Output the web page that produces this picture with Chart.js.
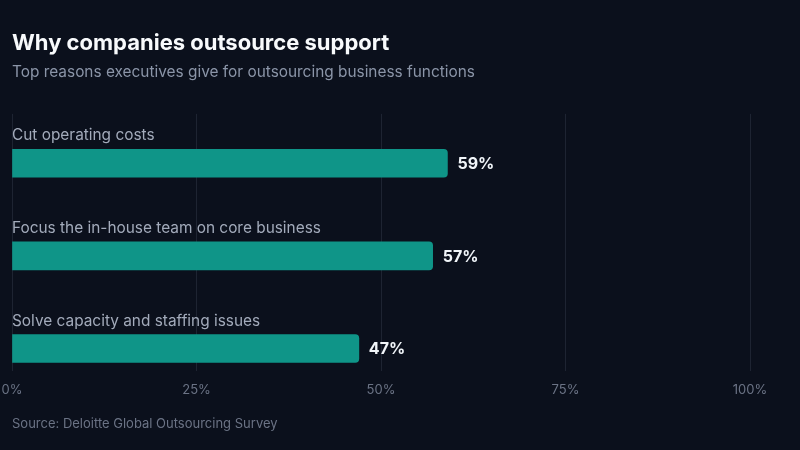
<!DOCTYPE html>
<html>
<head>
<meta charset="utf-8">
<script src="https://cdn.jsdelivr.net/npm/chart.js@4"></script>
<style>
  html, body { margin: 0; padding: 0; background: #0b101c; }
  #wrap { width: 800px; height: 450px; position: relative; }
</style>
</head>
<body>
<div id="wrap"><canvas id="chart"></canvas></div>
<script>
const categories = ['Cut operating costs', 'Focus the in-house team on core business', 'Solve capacity and staffing issues'];
const shares = [59, 57, 47];
const tickValues = [0, 25, 50, 75, 100];

const bg = '#0b101c';
const teal = '#0f9588';

// category names above each bar, value after its end
const barText = {
  id: 'barText',
  afterDatasetsDraw(chart) {
    const ctx = chart.ctx;
    const meta = chart.getDatasetMeta(0);
    ctx.save();
    meta.data.forEach((bar, i) => {
      ctx.font = '15.4px Inter';
      ctx.fillStyle = '#a3abbb';
      ctx.textAlign = 'left';
      ctx.textBaseline = 'alphabetic';
      ctx.fillText(categories[i], chart.chartArea.left, bar.y - 23);

      ctx.font = 'bold 16px Inter';
      ctx.fillStyle = '#f1f5f9';
      ctx.textBaseline = 'middle';
      ctx.fillText(shares[i] + '%', bar.x + 10, bar.y + 1);
    });
    ctx.restore();
  },
  afterDraw(chart) {
    const ctx = chart.ctx;
    ctx.save();
    ctx.font = '13px Inter';
    ctx.fillStyle = '#6b7385';
    ctx.textBaseline = 'middle';
    ctx.fillText('Source: Deloitte Global Outsourcing Survey', 12, 424);
    ctx.restore();
  }
};

const bgFill = {
  id: 'bgFill',
  beforeDraw(chart) {
    const ctx = chart.ctx;
    ctx.save();
    ctx.fillStyle = bg;
    ctx.fillRect(0, 0, chart.width, chart.height);
    ctx.restore();
  }
};

new Chart(document.getElementById('chart'), {
  type: 'bar',
  data: {
    datasets: [{
      data: shares.map((v, i) => ({ x: v, y: i })),
      backgroundColor: teal,
      borderRadius: 4,
      borderSkipped: 'start',
      barThickness: 28
    }]
  },
  options: {
    indexAxis: 'y',
    responsive: true,
    maintainAspectRatio: false,
    animation: false,
    layout: { padding: { top: 30, left: 12, right: 50, bottom: 41 } },
    plugins: {
      legend: { display: false },
      tooltip: { enabled: false },
      title: {
        display: true,
        text: 'Why companies outsource support',
        align: 'start',
        color: '#f8fafc',
        font: { family: 'Inter', size: 22, weight: 'bold' },
        padding: { top: 0, bottom: 7 }
      },
      subtitle: {
        display: true,
        text: 'Top reasons executives give for outsourcing business functions',
        align: 'start',
        color: '#8b95a8',
        font: { family: 'Inter', size: 15.4 },
        padding: { top: 0, bottom: 32 }
      }
    },
    scales: {
      x: {
        type: 'linear',
        min: 0,
        max: 100,
        afterBuildTicks(scale) { scale.ticks = tickValues.map(v => ({ value: v })); },
        afterFit(scale) { scale.paddingLeft = 0; scale.paddingRight = 0; },
        grid: { color: 'rgba(148,163,184,0.14)', drawTicks: false },
        border: { display: false },
        ticks: {
          color: '#6b7385',
          padding: 11,
          font: { family: 'Inter', size: 13 },
          maxRotation: 0,
          callback: v => v + '%'
        }
      },
      y: {
        type: 'linear',
        reverse: true,
        bounds: 'data',
        offset: false,
        min: -0.533,
        max: 2.247,
        display: false
      }
    }
  },
  plugins: [bgFill, barText]
});
</script>
</body>
</html>
